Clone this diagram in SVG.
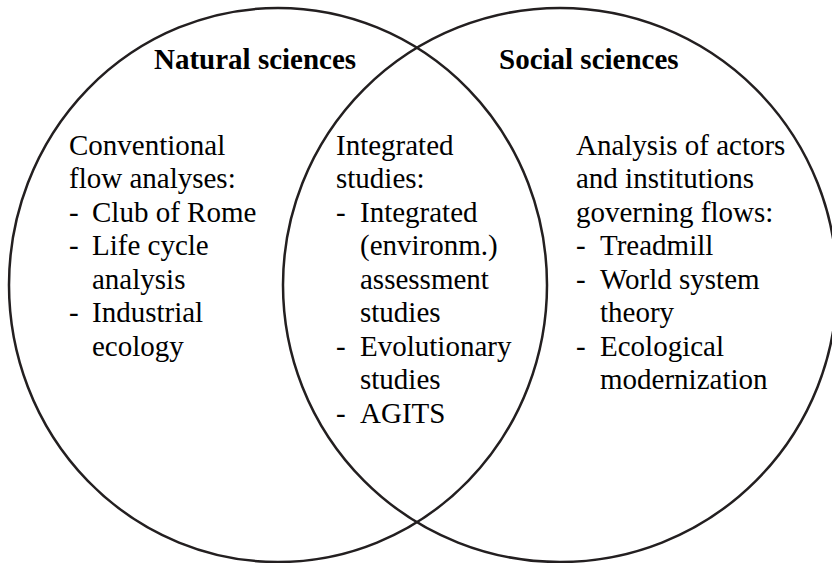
<svg xmlns="http://www.w3.org/2000/svg" width="832" height="563" viewBox="0 0 832 563" font-family="Liberation Serif, Times New Roman, serif">
<style>
.c{fill:none;stroke:#231f20;stroke-width:2.5}
text{font-family:"Liberation Serif",serif;font-size:29px;fill:#000}
.b{font-weight:bold}
</style>
<rect width="832" height="563" fill="#fff"/>
<g id="natural">
<ellipse class="c" cx="278" cy="285" rx="269" ry="277"/>
<text class="b" x="154" y="68.5">Natural sciences</text>
<text x="69" y="154.5">Conventional</text>
<text x="69" y="188">flow analyses:</text>
<text x="69" y="221.5">-</text><text x="92" y="221.5">Club of Rome</text>
<text x="69" y="255">-</text><text x="92" y="255">Life cycle</text>
<text x="92" y="288.5">analysis</text>
<text x="69" y="322">-</text><text x="92" y="322">Industrial</text>
<text x="92" y="355.5">ecology</text>
</g>
<g id="social">
<circle class="c" cx="560" cy="285" r="277"/>
<text class="b" x="499" y="68.5">Social sciences</text>
<text x="576" y="154.5">Analysis of actors</text>
<text x="576" y="188">and institutions</text>
<text x="576" y="221.5">governing flows:</text>
<text x="576" y="255">-</text><text x="600" y="255">Treadmill</text>
<text x="576" y="288.5">-</text><text x="600" y="288.5">World system</text>
<text x="600" y="322">theory</text>
<text x="576" y="355.5">-</text><text x="600" y="355.5">Ecological</text>
<text x="600" y="389">modernization</text>
</g>
<g id="integrated">
<text x="336" y="154.5">Integrated</text>
<text x="336" y="188">studies:</text>
<text x="336" y="221.5">-</text><text x="360" y="221.5">Integrated</text>
<text x="360" y="255">(environm.)</text>
<text x="360" y="288.5">assessment</text>
<text x="360" y="322">studies</text>
<text x="336" y="355.5">-</text><text x="360" y="355.5">Evolutionary</text>
<text x="360" y="389">studies</text>
<text x="336" y="422.5">-</text><text x="360" y="422.5">AGITS</text>
</g>
<g id="connectors"></g>
</svg>
